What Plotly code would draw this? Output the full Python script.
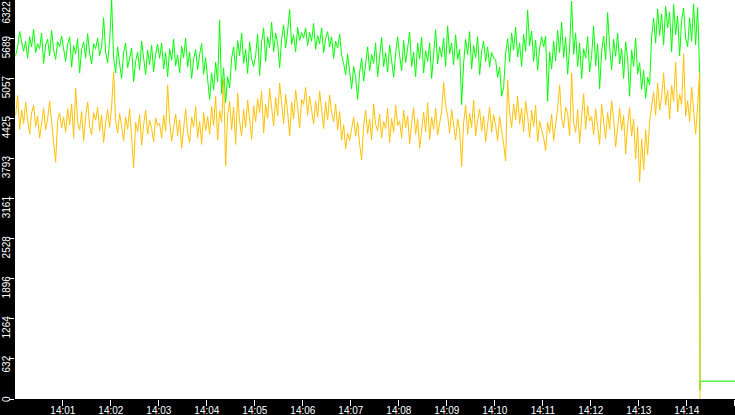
import pandas as pd
import plotly.graph_objects as go

# samples every 2.5 s from 14:00:01, one row per minute
green = [
    5420, 5560, 5800, 5610, 5490, 5650, 5380, 5720, 5560, 5840, 5470, 5610, 5530, 5780, 5300, 5590, 5680, 5420, 5820, 5510, 5360, 5640, 5560, 5730,
    5490, 5330, 5600, 5720, 5240, 5580, 5450, 5690, 5150, 5520, 5640, 5380, 5770, 5460, 5290, 5610, 5530, 5700, 5420, 5560, 6020, 5480, 5310, 5650,
    6300, 5380, 5150, 5560, 5290, 5060, 5470, 5620, 5230, 5390, 5540, 5010, 5330, 5480, 5200, 5650, 5370, 5120, 5510, 5280, 5590, 5170, 5440, 5600,
    5380, 5620, 5210, 5470, 5090, 5530, 5350, 5680, 5260, 5430, 5150, 5570, 5390, 5700, 5240, 5480, 5060, 5360, 5520, 5200, 5440, 5610, 5130, 5390,
    5050, 4730, 5150, 4880, 5320, 5010, 5980, 4820, 5230, 4680, 5090, 4910, 5380, 5560, 5190, 5660, 5420, 5780, 5300, 5520, 5140, 5640, 5370, 5250,
    5420, 5760, 5110, 5640, 5860, 5330, 5720, 5550, 5950, 5480, 5780, 5620, 5230, 5690, 5900, 5540, 5810, 6150, 5600, 5750, 5480, 5870, 5660, 5790,
    5700, 5860, 5580, 5790, 5650, 5930, 5520, 5740, 5610, 5860, 5470, 5690, 5800, 5560, 5720, 5380, 5650, 5540, 5760, 5430, 5300, 5120, 5450, 5210,
    4900, 5250, 5080, 4730, 5150, 5380, 5020, 5290, 5560, 5180, 5440, 5300, 5620, 5090, 5380, 5710, 5250, 5470, 5160, 5590, 5340, 5080, 5450, 5720,
    5420, 5180, 5660, 5310, 5540, 5790, 5250, 5480, 5090, 5620, 5370, 5710, 5150, 5500, 5330, 5620, 5060, 5450, 5830, 5290, 5560, 5400, 5700, 5250,
    5890, 5450, 5620, 5280, 5750, 5360, 5520, 4650, 5300, 5680, 5440, 5800, 5210, 5580, 5390, 5720, 5120, 5490, 5650, 5330, 5560, 5240, 5470, 5380,
    5360, 5080, 5240, 4780, 4920, 5450, 5690, 5320, 5780, 5510, 5870, 5400, 5620, 5250, 5760, 5490, 6140, 5580, 5810, 5330, 5670, 5190, 5540, 5720,
    5560, 5730, 4700, 5480, 5210, 5650, 5340, 5820, 5470, 5950, 5390, 5710, 5130, 5560, 6280, 5440, 5780, 5250, 5620, 5060, 5530, 5380, 5720, 5160,
    5420, 5890, 5260, 5610, 4900, 5480, 5730, 5350, 6100, 5570, 5200, 5680, 5410, 5780, 5290, 5530, 5060, 5640, 5370, 4780, 5510, 5250, 5700, 5130,
    5310, 4890, 5190, 4750, 5080, 4960, 5720, 6010, 5620, 6160, 5740, 6080, 5590, 6200, 5860, 6110, 5480, 6230, 5750, 6050, 5420, 5980, 6170, 5700,
    5560, 6020, 5650, 6240, 5590, 6180, 5160,
]

orange = [
    4480, 4790, 4260, 4560, 4350, 4690, 4410, 4180, 4520, 4640, 4300, 4470, 4120, 4380, 4590, 4250, 4430, 4700, 4340, 4060, 3740, 4390, 4520, 4280,
    4450, 4210, 4580, 4330, 4660, 4120, 4910, 4370, 4250, 4540, 4080, 4460, 4690, 4310, 4170, 4520, 4400, 4610, 4230, 4480, 4050, 4360, 4570, 4290,
    4620, 5170, 4400, 4200, 4510, 4300, 4080, 4450, 4260, 4580, 4140, 3650, 4370, 4220, 4490, 4010, 4330, 4560, 4180, 4400, 4270, 4060, 4440, 4320,
    4350, 4120, 4480, 4230, 4960, 4390, 4070, 4280, 4500, 4160, 4410, 3960, 4330, 4580, 4200, 4050, 4450, 4290, 4620, 4130, 4380, 4020, 4520, 4240,
    4460, 4180, 4620, 4310, 4780, 4090, 4550, 4370, 5040, 3680, 4490, 4700, 4250, 4610, 4020, 4830, 4380, 4160, 4570, 4290, 4720, 4450, 4100, 4630,
    4380, 4740, 4520, 4860, 4200, 4650, 4430, 4900, 4580, 4310, 4760, 4470, 4990, 4620, 4350, 4810, 4540, 4150, 4690, 4420, 4880, 4600, 4280, 4730,
    4650, 4920, 4480, 4780, 4560, 4340, 4710, 4450, 4860, 4590, 4270, 4690, 4410, 4800, 4520, 4380, 4660, 4250, 4540, 4090, 4330, 3950, 4200, 4080,
    4280, 4450, 4150, 4370, 4020, 3780, 4310, 4560, 4190, 4420, 4090, 4660, 4340, 4230, 4500, 4120, 4380, 4270, 4590, 4050, 4430, 4210, 4640, 4320,
    4390, 4120, 4560, 4280, 4470, 4030, 4350, 4600, 4180, 4420, 3960, 4310, 4530, 4220, 4680, 4100, 4450, 4260, 4590, 4170, 4380, 4540, 5000, 4630,
    4480, 4200, 4570, 4310, 4090, 4420, 4250, 3670, 4360, 4640, 4180, 4510, 4290, 4720, 4150, 4400, 4580, 4230, 4470, 4060, 4340, 4610, 4210, 4490,
    4320, 4080, 4460, 4190, 4020, 3760, 5040, 4520, 4290, 4660, 4410, 4780, 4350, 4590, 4220, 4700, 4470, 4130, 4560, 4300, 4640, 4060, 4390, 4250,
    4130, 3920, 4370, 4200, 4500, 4080, 4320, 4590, 4960, 4430, 4280, 4610, 4510, 4150, 5150, 4360, 4210, 4570, 4040, 4440, 4820, 4260, 4630, 4390,
    4460, 4170, 4580, 4300, 4020, 4650, 4380, 4110, 4520, 4260, 4710, 4430, 3980, 4350, 4590, 4240, 4480, 3870, 4330, 4600, 4150, 4420, 3790, 4290,
    3430, 4100, 3620, 4250, 3860, 4380, 4620, 4850, 4480, 4990, 4560, 4770, 5150, 4640, 4880, 4420, 4950, 4700, 5320, 4530, 4810, 4650, 5450, 4470,
    4710, 4380, 4920, 4560, 4180, 4640, 5150,
]

# the feed drops out at the end
green_tail_t = ["2024-01-01 14:14:16.2", "2024-01-01 14:14:16.5", "2024-01-01 14:14:16.8", "2024-01-01 14:15:05.0"]
green_tail = [2560, 140, 281, 281]
orange_tail_t = ["2024-01-01 14:14:16.5"]
orange_tail = [0]

ytick_vals = [0, 632, 1264, 1896, 2528, 3161, 3793, 4425, 5057, 5689, 6322]
ytick_text = ["0", "632", "1264", "1896", "2528", "3161", "3793", "4425", "5057", "5689", "6322"]
y_top = 6300

t = pd.date_range("2024-01-01 14:00:01", periods=len(green), freq="2500ms")
tg = list(t) + list(pd.to_datetime(green_tail_t, format="ISO8601"))
to = list(t) + list(pd.to_datetime(orange_tail_t, format="ISO8601"))

fig = go.Figure()
fig.add_trace(go.Scatter(x=tg, y=green + green_tail, mode="lines",
                         line=dict(color="#00ff00", width=1)))
fig.add_trace(go.Scatter(x=to, y=orange + orange_tail, mode="lines",
                         line=dict(color="#ffc000", width=1)))

fig.update_layout(
    width=735, height=415,
    margin=dict(l=15, r=0, t=0, b=16, pad=0),
    paper_bgcolor="black",
    plot_bgcolor="white",
    showlegend=False,
    font=dict(family="Liberation Sans", size=10, color="white"),
    xaxis=dict(
        type="date",
        automargin=False,
        range=["2024-01-01 14:00:00.2", "2024-01-01 14:15:00.2"],
        tick0="2024-01-01 14:00:00",
        dtick=60000,
        tickformat="%H:%M",
        ticks="outside", ticklen=6, tickcolor="white", tickwidth=1,
        ticklabelstandoff=-4,
        showgrid=False, zeroline=False, showline=False,
        tickfont=dict(family="Liberation Sans", size=10, color="white"),
    ),
    yaxis=dict(
        automargin=False,
        range=[0, y_top],
        tickmode="array", tickvals=ytick_vals,
        ticks="outside", ticklen=5, tickcolor="white", tickwidth=1,
        showticklabels=False,
        showgrid=False, zeroline=False, showline=False,
    ),
    # rotated y labels, top end just above each tick (top one kept on the page)
    annotations=[
        dict(x=0, y=min(v / y_top, 1), xref="paper", yref="paper", text=s, textangle=-90,
             showarrow=False, xanchor="center", yanchor="top",
             xshift=-9, yshift=4 if v < y_top else 0, borderpad=0,
             font=dict(family="Liberation Sans", size=10, color="white"))
        for v, s in zip(ytick_vals, ytick_text)
    ],
)

fig.write_html("out.html", config={"displayModeBar": False},
               post_script="document.body.style.margin='0';document.body.style.overflow='hidden';")
